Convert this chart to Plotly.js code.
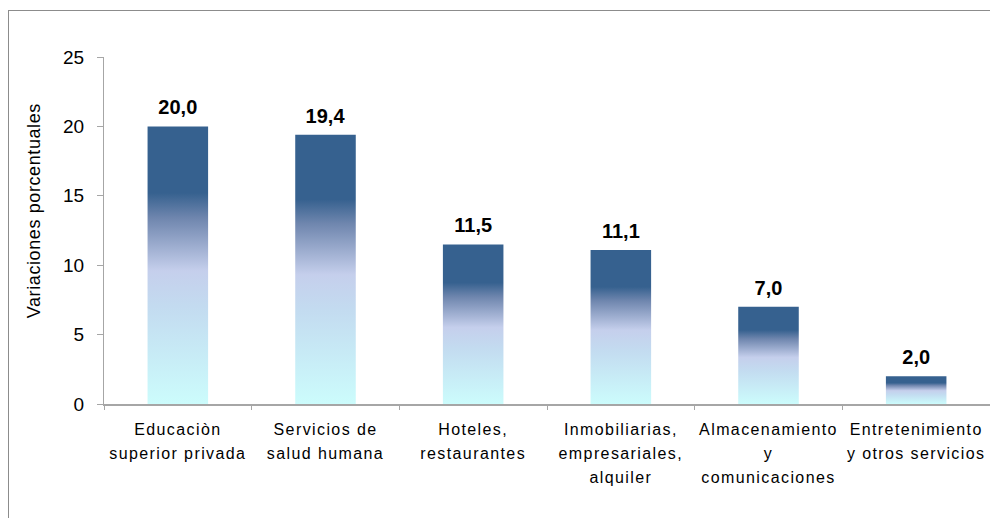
<!DOCTYPE html>
<html>
<head>
<meta charset="utf-8">
<script src="https://cdn.plot.ly/plotly-3.0.1.min.js"></script>
<style>
  html, body { margin: 0; padding: 0; background: #fff; }
  #wrap { position: relative; width: 990px; height: 518px; overflow: hidden; }
  #chart { position: absolute; left: 0; top: 0; width: 990px; height: 518px; }
  #frame { position: absolute; left: 8px; top: 10px; width: 990px; height: 520px;
           border-left: 1px solid #8c8c8c; border-top: 1px solid #8c8c8c; pointer-events: none; }
</style>
</head>
<body>
<div id="wrap">
  <div id="chart"></div>
  <div id="frame"></div>
</div>
<script>
const categories = [
  "Educaciòn<br>superior privada",
  "Servicios de<br>salud humana",
  "Hoteles,<br>restaurantes",
  "Inmobiliarias,<br>empresariales,<br>alquiler",
  "Almacenamiento<br>y<br>comunicaciones",
  "Entretenimiento<br>y otros servicios"
];
const values = [20.0, 19.4, 11.5, 11.1, 7.0, 2.0];
const yTicks = [0, 5, 10, 15, 20, 25];
const yTitle = "Variaciones porcentuales";

const trace = {
  type: "bar",
  x: categories,
  y: values,
  width: 0.41,
  marker: { color: "#36618F", line: { width: 0 } },
  texttemplate: "%{y:.1f}",
  textposition: "outside",
  cliponaxis: false,
  textfont: { family: "Liberation Sans, Arial, sans-serif", size: 20, color: "#000", weight: "bold" },
  hoverinfo: "skip"
};

const layout = {
  width: 990,
  height: 518,
  margin: { l: 104, r: 0, t: 57, b: 114 },
  paper_bgcolor: "rgba(0,0,0,0)",
  plot_bgcolor: "rgba(0,0,0,0)",
  separators: ",.",
  showlegend: false,
  font: { family: "Liberation Sans, Arial, sans-serif", color: "#000" },
  xaxis: {
    type: "category",
    showline: true,
    linecolor: "#a6a6a6",
    linewidth: 1.5,
    ticks: "outside",
    tickson: "boundaries",
    ticklen: 4,
    tickcolor: "#a6a6a6",
    ticklabelstandoff: 10,
    tickfont: { size: 16, color: "#000" },
    showgrid: false,
    zeroline: false,
    automargin: false
  },
  yaxis: {
    range: [0, 25],
    tickvals: yTicks,
    ticktext: yTicks.map(String),
    showline: true,
    linecolor: "#a6a6a6",
    linewidth: 1,
    ticks: "outside",
    ticklen: 6,
    tickcolor: "#a6a6a6",
    ticklabelstandoff: 9,
    tickfont: { size: 19, color: "#000" },
    showgrid: false,
    zeroline: false,
    automargin: false
  },
  annotations: [{
    text: yTitle,
    xref: "paper", yref: "paper",
    x: -0.079, y: 0.556,
    xanchor: "center", yanchor: "middle",
    textangle: -90,
    showarrow: false,
    font: { size: 18, color: "#000" }
  }]
};

Plotly.newPlot("chart", [trace], layout, { displayModeBar: false, staticPlot: true }).then(function (gd) {
  const svg = gd.querySelector("svg.main-svg");
  const ns = "http://www.w3.org/2000/svg";
  let defs = svg.querySelector("defs");
  if (!defs) { defs = document.createElementNS(ns, "defs"); svg.insertBefore(defs, svg.firstChild); }
  const grad = document.createElementNS(ns, "linearGradient");
  grad.setAttribute("id", "barGrad");
  grad.setAttribute("x1", "0"); grad.setAttribute("y1", "0");
  grad.setAttribute("x2", "0"); grad.setAttribute("y2", "1");
  const stops = [
    [0, "#36618F"], [0.24, "#36618F"], [0.33, "#6F86AE"], [0.52, "#C5CFEC"],
    [0.65, "#C3DBF0"], [1, "#CCFCFC"]
  ];
  stops.forEach(function (s) {
    const st = document.createElementNS(ns, "stop");
    st.setAttribute("offset", s[0]);
    st.setAttribute("stop-color", s[1]);
    grad.appendChild(st);
  });
  defs.appendChild(grad);
  gd.querySelectorAll(".bars .point path").forEach(function (p) {
    p.style.fill = "url(#barGrad)";
  });
  // raise value labels a little above the bars
  gd.querySelectorAll(".bars .point text").forEach(function (t) {
    const tr = t.getAttribute("transform") || "";
    t.setAttribute("transform", "translate(0,-5) " + tr);
  });
  // wider spacing for category labels, like the reference
  gd.querySelectorAll(".xtick text").forEach(function (t) {
    t.setAttribute("letter-spacing", "1.4");
    t.querySelectorAll("tspan.line").forEach(function (ts) {
      const dy = ts.getAttribute("dy");
      if (dy && dy.indexOf("em") > 0) {
        const v = parseFloat(dy);
        if (v > 0) ts.setAttribute("dy", (v * 1.5 / 1.3).toFixed(3) + "em");
      }
    });
  });
  const at = gd.querySelector(".annotation-text");
  if (at) at.setAttribute("letter-spacing", "0.6");
});
</script>
</body>
</html>
